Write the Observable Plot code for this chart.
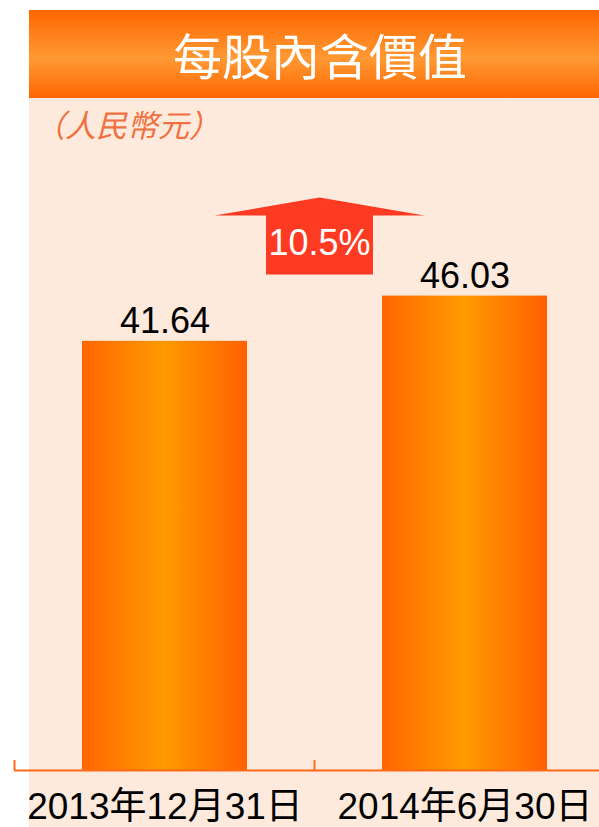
<!DOCTYPE html>
<html><head><meta charset="utf-8">
<script src="https://cdn.jsdelivr.net/npm/d3@7"></script>
<script src="https://cdn.jsdelivr.net/npm/@observablehq/plot@0.6"></script>
<style>
body{margin:0;background:#fff;}
#wrap{position:relative;width:599px;height:827px;overflow:hidden;font-family:"Liberation Sans","Noto Sans CJK TC",sans-serif;}
#bg{position:absolute;left:29px;top:98px;right:0;bottom:0;background:#FEEADC;}
#title{position:absolute;left:29px;top:10px;width:570px;height:88px;box-sizing:border-box;padding-left:12px;background:linear-gradient(#FF6600,#FF9933 55%,#FF6600);color:#fff;font-family:"Noto Sans CJK TC",sans-serif;font-size:49px;line-height:88px;text-align:center;}
#sub{position:absolute;left:34px;top:104px;color:#F07040;font-style:italic;font-size:31px;line-height:40px;font-family:"Noto Sans CJK TC",sans-serif;}
#chart{position:absolute;left:0;top:98px;}
</style></head><body>
<div id="wrap"><div id="bg"></div><div id="title"></div><div id="sub"></div><div id="chart"></div></div>
<script>
const title = "每股內含價值";
const unit = "（人民幣元）";
const dates = ["2013年12月31日", "2014年6月30日"];
const values = [41.64, 46.03];
const changeLabel = "10.5%";

document.getElementById("title").textContent = title;
document.getElementById("sub").textContent = unit;

const data = dates.map((d, i) => ({date: d, value: values[i]}));
const font = '"Liberation Sans","Noto Sans CJK TC",sans-serif';

const chart = Plot.plot({
  width: 599, height: 729,
  marginTop: 0, marginBottom: 57, marginLeft: 14, marginRight: 0,
  style: {background: "transparent", color: "#000", fontFamily: font, overflow: "visible"},
  x: {domain: dates, range: [14, 614], paddingInner: 0.45, paddingOuter: 0.225, label: null},
  y: {domain: [0, 65.2], axis: null},
  marks: [
    Plot.barY(data, {x: "date", y: "value", fill: "url(#barGrad)"}),
    Plot.text(data, {x: "date", y: "value", text: d => d.value.toFixed(2), dy: -8, lineAnchor: "bottom", fontSize: 36, fill: "#000"}),
    Plot.ruleY([0], {stroke: "#FF6A1A", strokeWidth: 2}),
    Plot.axisX({tickSize: 0, tickPadding: 22, fontSize: 37, label: null, fill: "#000"})
  ]
});
document.getElementById("chart").appendChild(chart);

const svg = d3.select(chart);
const defs = svg.insert("defs", ":first-child");
const g = defs.append("linearGradient").attr("id", "barGrad").attr("x1", 0).attr("x2", 1).attr("y1", 0).attr("y2", 0);
g.append("stop").attr("offset", "0%").attr("stop-color", "#FF6600");
g.append("stop").attr("offset", "50%").attr("stop-color", "#FF9A00");
g.append("stop").attr("offset", "100%").attr("stop-color", "#FF6000");

const xs = chart.scale("x"), ys = chart.scale("y");
const centers = dates.map(d => xs.apply(d) + xs.bandwidth / 2);
const step = centers[1] - centers[0];
const y0 = ys.apply(0);

// band boundary ticks
svg.append("g").selectAll("line")
  .data(centers.map(c => c - step / 2))
  .join("line")
  .attr("x1", d => d).attr("x2", d => d)
  .attr("y1", y0 - 10).attr("y2", y0)
  .attr("stroke", "#FF6A1A").attr("stroke-width", 2);

// growth arrow
const cx = (centers[0] + centers[1]) / 2 + 5;
const base = ys.apply(d3.max(values)) - 21;
const ag = svg.append("g");
ag.append("path")
  .attr("d", `M${cx - 53.5},${base} V${base - 59} H${cx - 105} L${cx},${base - 77} L${cx + 105},${base - 59} H${cx + 53.5} V${base} Z`)
  .attr("fill", "#FF3A22");
ag.append("text")
  .attr("x", cx).attr("y", base - 20)
  .attr("text-anchor", "middle")
  .attr("fill", "#fff")
  .attr("font-size", 36)
  .attr("font-family", font)
  .text(changeLabel);
</script>
</body></html>
